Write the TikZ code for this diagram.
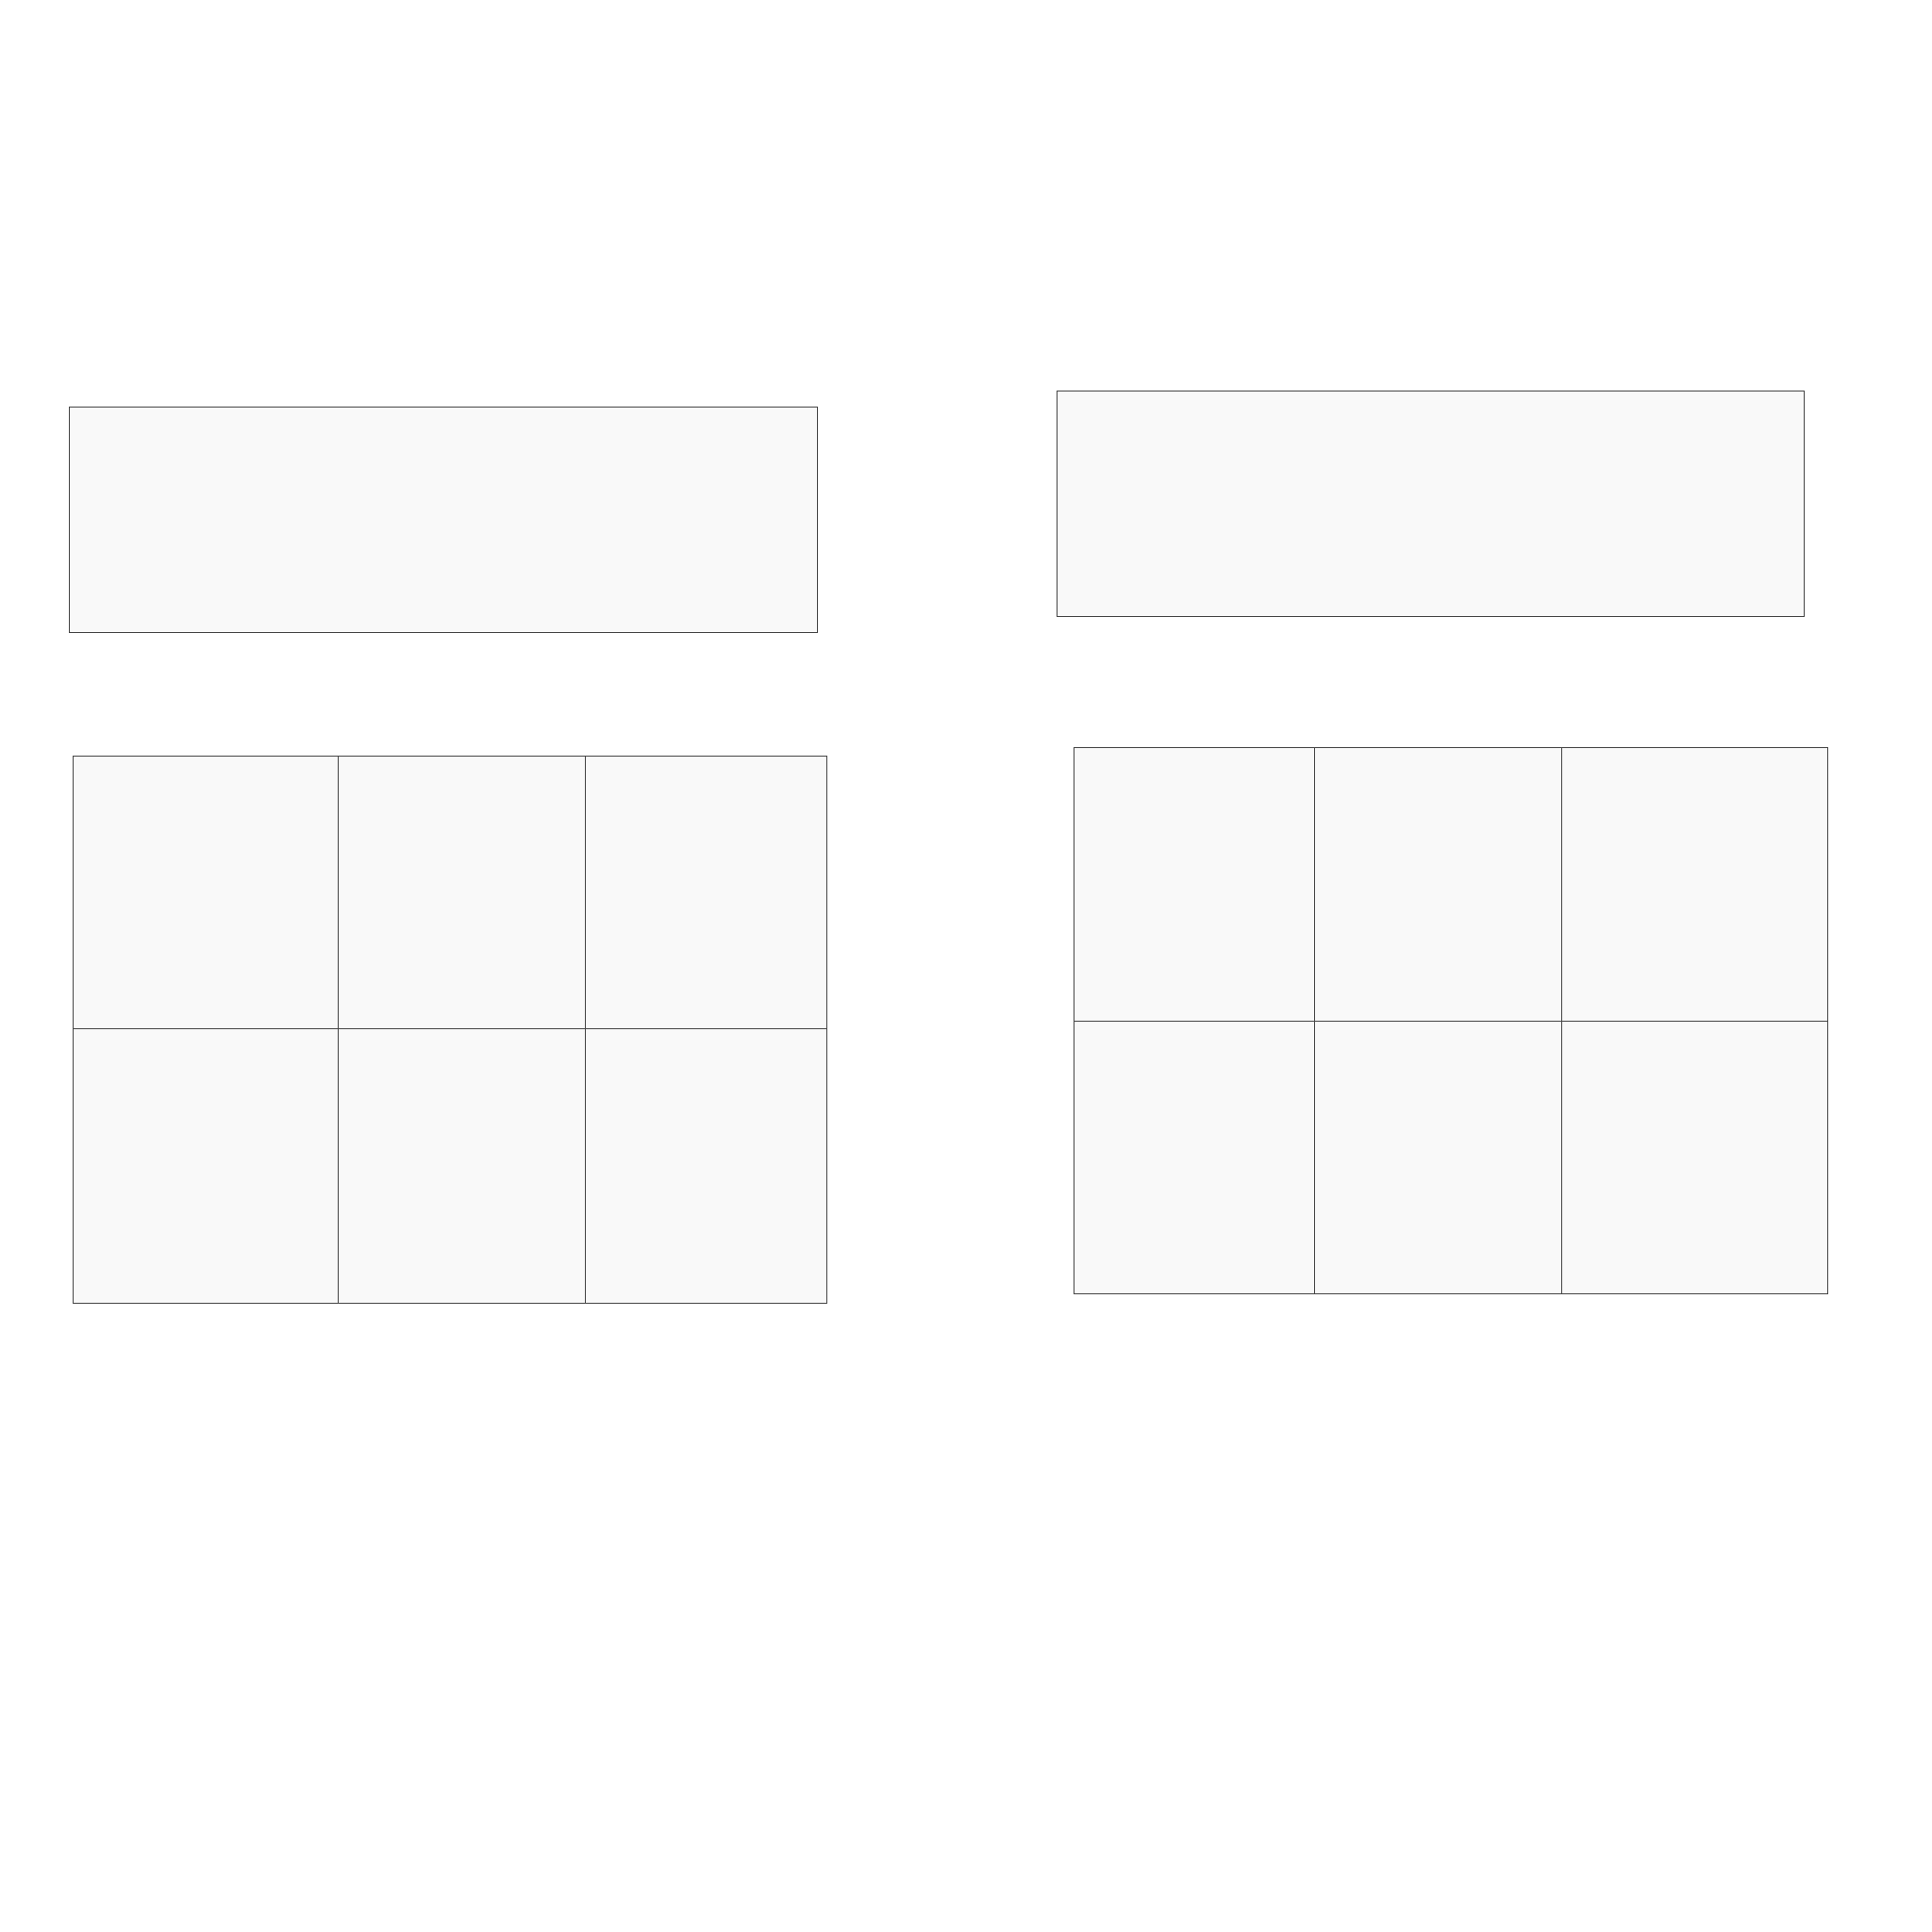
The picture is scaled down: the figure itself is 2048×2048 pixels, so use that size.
\documentclass[tikz,border=0pt]{standalone}
\usepackage{tikz}
\definecolor{cellfill}{HTML}{F9F9F9}
\definecolor{cellline}{HTML}{444444}
\tikzset{
  cellbox/.style={draw=cellline, fill=cellfill, line width=0.3pt, inner sep=0pt, outer sep=0pt, rectangle},
}
\begin{document}
\begin{tikzpicture}[x=0.01cm,y=-0.01cm]
\useasboundingbox[fill=white] (0,0) rectangle (2048,2048);
% top boxes
\node[cellbox, minimum width=7.92cm, minimum height=2.38cm] (boxA) at (470,551) {};
\node[cellbox, minimum width=7.91cm, minimum height=2.38cm] (boxB) at (1516.5,534) {};
% left grid
\node[cellbox, minimum width=2.81cm, minimum height=2.89cm] (la1) at (218.5,946.5) {};
\node[cellbox, minimum width=2.62cm, minimum height=2.89cm] (la2) at (490,946.5) {};
\node[cellbox, minimum width=2.55cm, minimum height=2.89cm] (la3) at (748.5,946.5) {};
\node[cellbox, minimum width=2.81cm, minimum height=2.90cm] (lb1) at (218.5,1236) {};
\node[cellbox, minimum width=2.62cm, minimum height=2.90cm] (lb2) at (490,1236) {};
\node[cellbox, minimum width=2.55cm, minimum height=2.90cm] (lb3) at (748.5,1236) {};
% right grid
\node[cellbox, minimum width=2.55cm, minimum height=2.90cm] (ra1) at (1266.5,938) {};
\node[cellbox, minimum width=2.62cm, minimum height=2.90cm] (ra2) at (1525,938) {};
\node[cellbox, minimum width=2.81cm, minimum height=2.90cm] (ra3) at (1796.5,938) {};
\node[cellbox, minimum width=2.55cm, minimum height=2.88cm] (rb1) at (1266.5,1227) {};
\node[cellbox, minimum width=2.62cm, minimum height=2.88cm] (rb2) at (1525,1227) {};
\node[cellbox, minimum width=2.81cm, minimum height=2.88cm] (rb3) at (1796.5,1227) {};
\end{tikzpicture}
\end{document}
